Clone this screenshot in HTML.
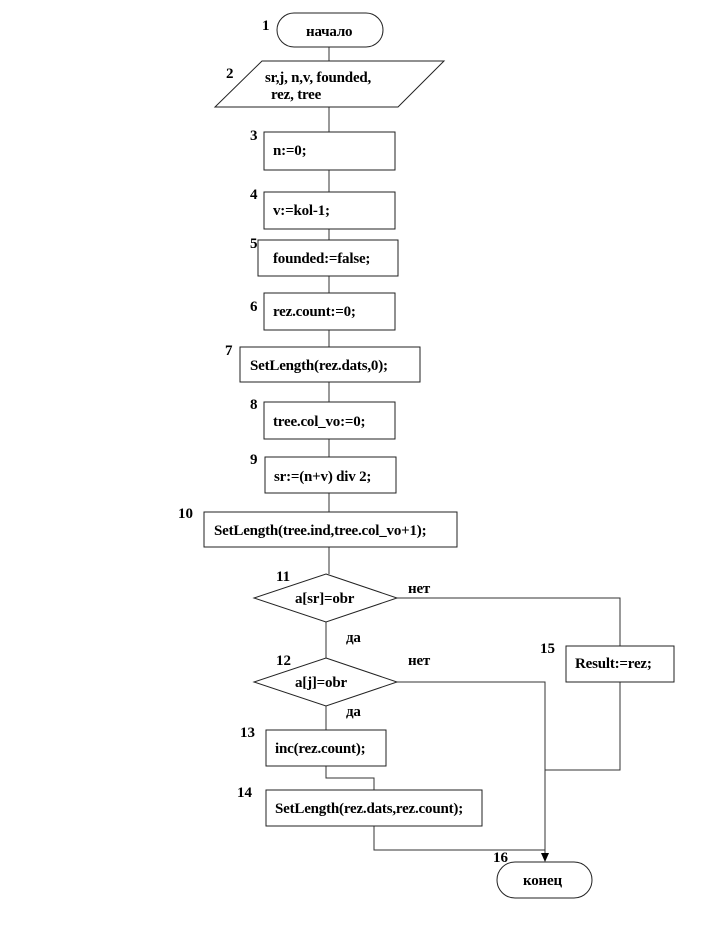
<!DOCTYPE html>
<html><head><meta charset="utf-8"><style>
html,body{margin:0;padding:0;background:#fff;}
svg{display:block}
text{font-family:"Liberation Serif","DejaVu Serif",serif;font-weight:bold;font-size:15px;fill:#000;letter-spacing:-0.2px}
.n{font-size:15px;letter-spacing:0}
.s{fill:none;stroke:#222;stroke-width:1}
.l{fill:none;stroke:#333;stroke-width:1}
</style></head><body>
<svg width="720" height="948" viewBox="0 0 720 948" xmlns="http://www.w3.org/2000/svg">
<g class="l">
<line x1="329" y1="47" x2="329" y2="61"/>
<line x1="329" y1="107" x2="329" y2="132"/>
<line x1="329" y1="170" x2="329" y2="192"/>
<line x1="329" y1="229" x2="329" y2="240"/>
<line x1="329" y1="276" x2="329" y2="293"/>
<line x1="329" y1="330" x2="329" y2="347"/>
<line x1="329" y1="382" x2="329" y2="402"/>
<line x1="329" y1="439" x2="329" y2="457"/>
<line x1="329" y1="493" x2="329" y2="512"/>
<line x1="329" y1="547" x2="329" y2="574"/>
<line x1="326" y1="622" x2="326" y2="658"/>
<line x1="326" y1="706" x2="326" y2="730"/>
<polyline points="397,598 620,598 620,646"/>
<polyline points="620,682 620,770 545,770"/>
<polyline points="397,682 545,682 545,856"/>
<polyline points="326,766 326,778 374,778 374,790"/>
<polyline points="374,826 374,850 545,850"/>
</g>
<polygon points="541,853 549,853 545,862" fill="#000"/>
<g class="s">
<rect x="277" y="13" width="106" height="34" rx="17"/>
<polygon points="262,61 444,61 398,107 215,107"/>
<rect x="264" y="132" width="131" height="38"/>
<rect x="264" y="192" width="131" height="37"/>
<rect x="258" y="240" width="140" height="36"/>
<rect x="264" y="293" width="131" height="37"/>
<rect x="240" y="347" width="180" height="35"/>
<rect x="264" y="402" width="131" height="37"/>
<rect x="265" y="457" width="131" height="36"/>
<rect x="204" y="512" width="253" height="35"/>
<polygon points="326,574 397,598 326,622 254,598"/>
<polygon points="326,658 397,682 326,706 254,682"/>
<rect x="266" y="730" width="120" height="36"/>
<rect x="266" y="790" width="216" height="36"/>
<rect x="566" y="646" width="108" height="36"/>
<rect x="497" y="862" width="95" height="36" rx="18"/>
</g>
<text x="306" y="36">начало</text>
<text x="265" y="82">sr,j, n,v, founded,</text>
<text x="271" y="99">rez, tree</text>
<text x="273" y="155">n:=0;</text>
<text x="273" y="215">v:=kol-1;</text>
<text x="273" y="263">founded:=false;</text>
<text x="273" y="316">rez.count:=0;</text>
<text x="250" y="370">SetLength(rez.dats,0);</text>
<text x="273" y="426">tree.col_vo:=0;</text>
<text x="274" y="481">sr:=(n+v)  div 2;</text>
<text x="214" y="535">SetLength(tree.ind,tree.col_vo+1);</text>
<text x="295" y="603">a[sr]=obr</text>
<text x="295" y="687">a[j]=obr</text>
<text x="275" y="753">inc(rez.count);</text>
<text x="275" y="813">SetLength(rez.dats,rez.count);</text>
<text x="575" y="668">Result:=rez;</text>
<text x="523" y="885">конец</text>
<text x="408" y="593">нет</text>
<text x="408" y="665">нет</text>
<text x="346" y="642">да</text>
<text x="346" y="716">да</text>
<text class="n" x="262" y="30">1</text>
<text class="n" x="226" y="78">2</text>
<text class="n" x="250" y="140">3</text>
<text class="n" x="250" y="199">4</text>
<text class="n" x="250" y="248">5</text>
<text class="n" x="250" y="311">6</text>
<text class="n" x="225" y="355">7</text>
<text class="n" x="250" y="409">8</text>
<text class="n" x="250" y="464">9</text>
<text class="n" x="178" y="518">10</text>
<text class="n" x="276" y="581">11</text>
<text class="n" x="276" y="665">12</text>
<text class="n" x="240" y="737">13</text>
<text class="n" x="237" y="797">14</text>
<text class="n" x="540" y="653">15</text>
<text class="n" x="493" y="862">16</text>
</svg>
</body></html>
